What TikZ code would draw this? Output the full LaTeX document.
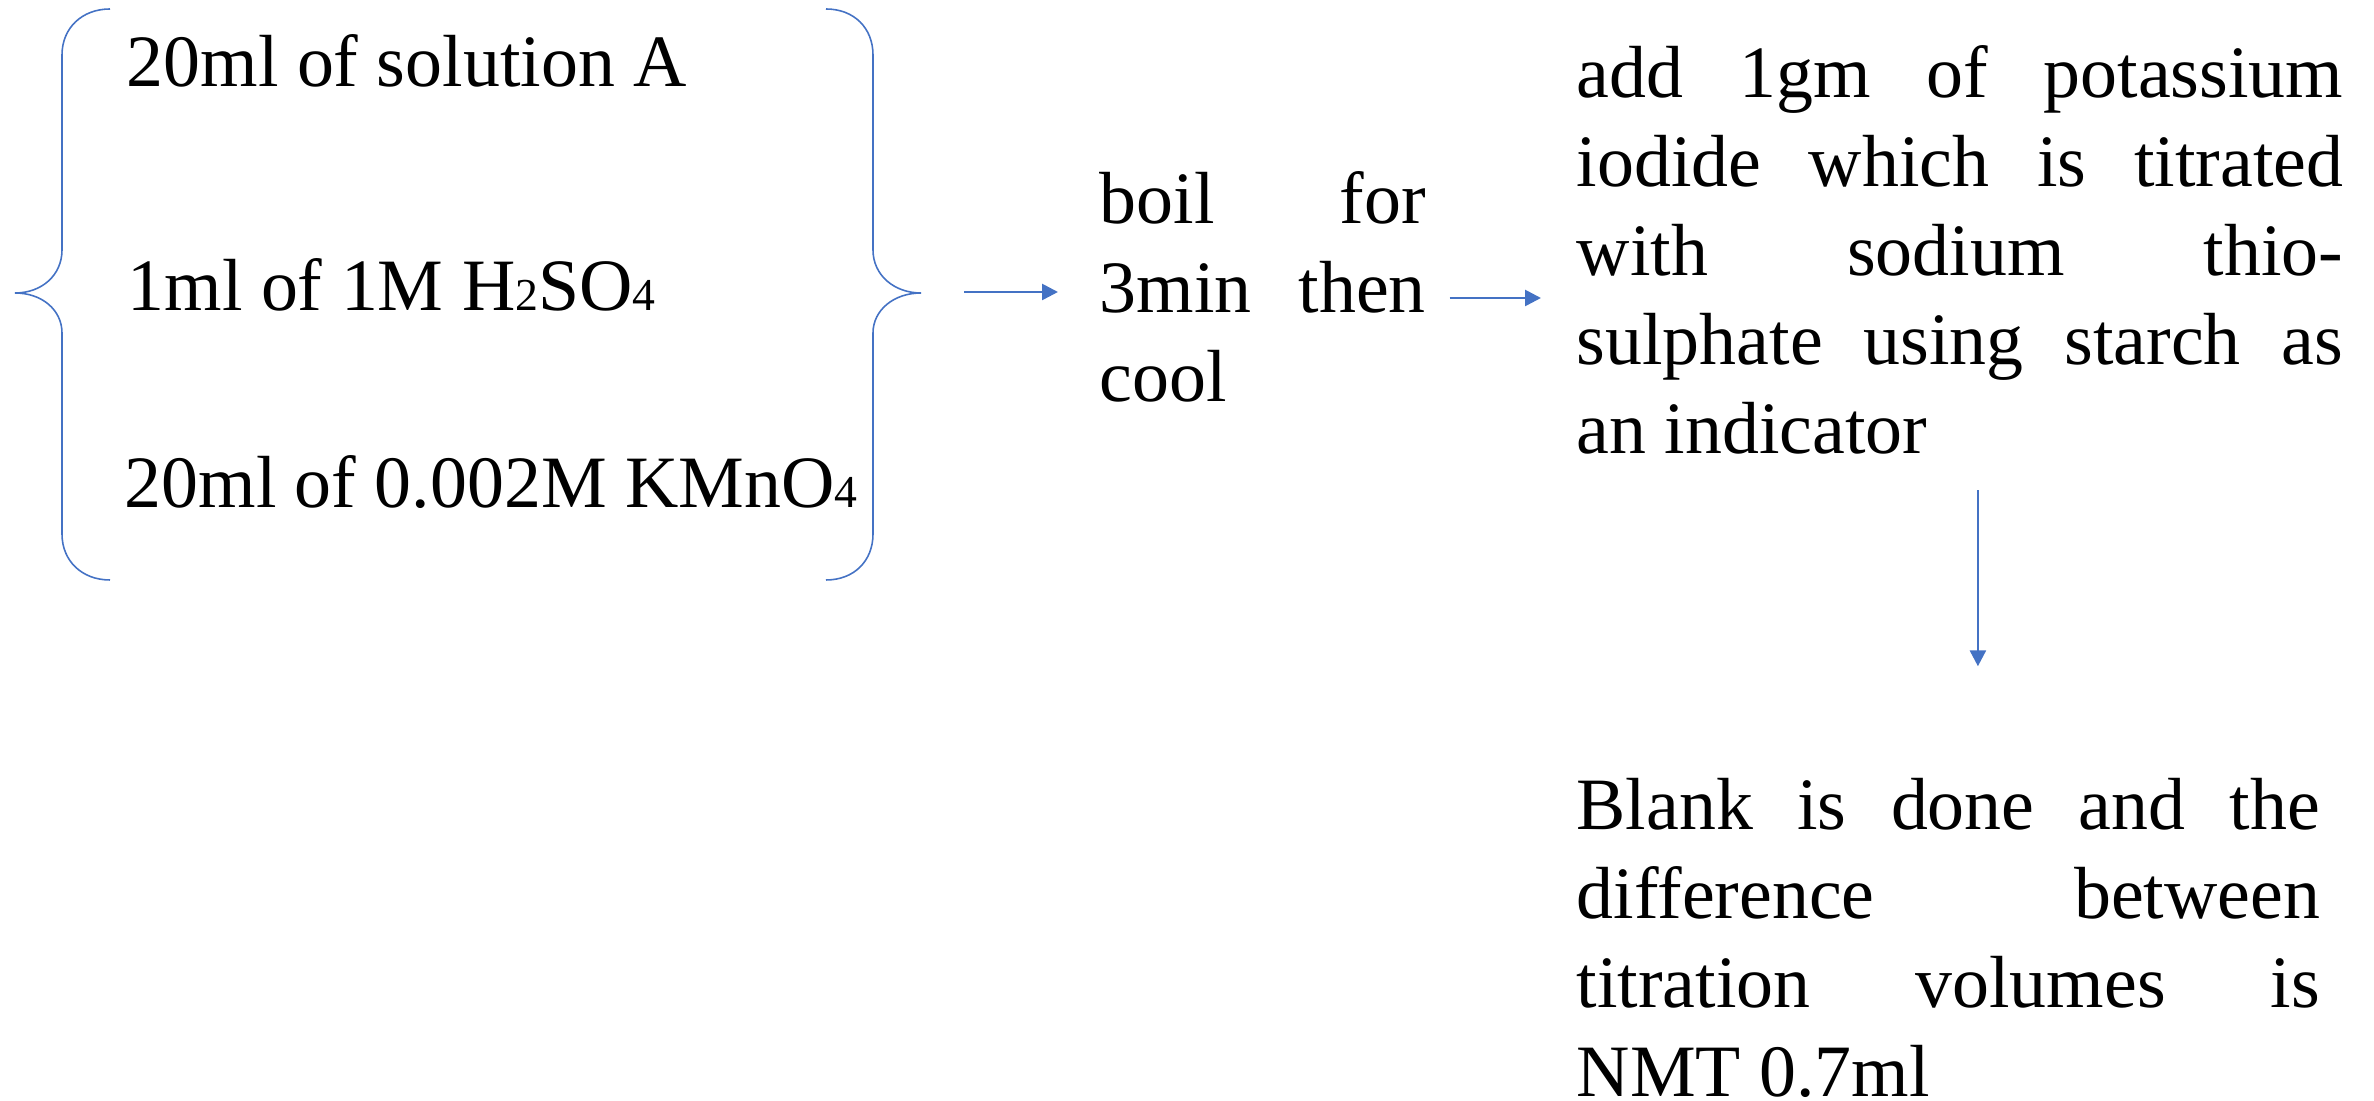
\documentclass[tikz,border=0pt]{standalone}
\usepackage{fontspec}
\setmainfont{Liberation Serif}
\usetikzlibrary{calc,arrows.meta}
\definecolor{offblue}{RGB}{68,114,196}
\tikzset{>={Triangle[length=4.5pt,width=4.5pt]},
  flow/.style={->,draw=offblue,line width=.75pt},
  brace/.style={draw=offblue,line width=.45pt},
  txt/.style={inner sep=0pt,anchor=base west,font=\fontsize{21}{25.3}\selectfont},
  para/.style={txt,align=justify,
    execute at begin node={\hyphenpenalty=10000\tolerance=10000\hbadness=10000}}}
\newcommand\chemsub[1]{{\fontsize{13}{13}\selectfont #1}}

\begin{document}
\begin{tikzpicture}[x=0.01cm,y=-0.01cm]
\useasboundingbox (0,0) rectangle (2374,1101);

% the three reagents between braces
\node[txt] (solA) at (126,87) {20ml of solution A};
\node[txt] (acid) at (127,311) {1ml of 1M H\chemsub{2}SO\chemsub{4}};
\node[txt] (perm) at (124,508) {20ml of 0.002M KMnO\chemsub{4}};
\draw[brace] (110,9) .. controls (82,9) and (62,28) .. (62,55) -- (62,250)
  .. controls (62,275) and (42,293) .. (15,293)
  .. controls (42,293) and (62,310) .. (62,333) -- (62,534)
  .. controls (62,561) and (82,580) .. (110,580);
\draw[brace] (826,9) .. controls (854,9) and (873,28) .. (873,55) -- (873,250)
  .. controls (873,275) and (894,293) .. (921,293)
  .. controls (894,293) and (873,310) .. (873,333) -- (873,534)
  .. controls (873,561) and (854,580) .. (826,580);
\coordinate (tipR) at (921,292);

% steps
\node[para,text width=3.26cm] (boil) at (1099,224)
  {boil for\linebreak 3min then\linebreak cool};
\node[para,text width=7.66cm] (addki) at (1576,98)
  {add 1gm of potassium\linebreak iodide which is titrated\linebreak
   with sodium thio-\linebreak sulphate using starch as\linebreak an indicator};
\node[para,text width=7.43cm] (blank) at (1576,830)
  {Blank is done and the\linebreak difference between\linebreak
   titration volumes is\linebreak NMT 0.7ml};

\draw[flow] ($(tipR)+(43,0)$) -- ($(tipR -| boil.west)+(-41,0)$);
\draw[flow] ($(boil.east |- 0,298)+(23,0)$) -- ($(addki.west |- 0,298)+(-35,0)$);
\draw[flow] ($(addki.south)+(18,35)$) -- ($(addki.south)+(18,211)$);
\end{tikzpicture}
\end{document}
